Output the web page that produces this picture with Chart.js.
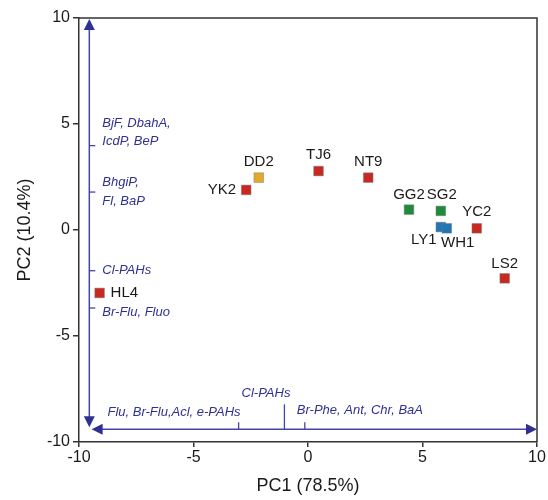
<!DOCTYPE html>
<html>
<head>
<meta charset="utf-8">
<script src="https://cdn.jsdelivr.net/npm/chart.js@4"></script>
<style>
html,body{margin:0;padding:0;background:#fff;}
#wrap{width:548px;height:500px;}
</style>
</head>
<body>
<div id="wrap"><canvas id="c" width="548" height="500"></canvas></div>
<script>
// ---- data ----
const samples = ['HL4','YK2','DD2','TJ6','NT9','GG2','SG2','LY1','WH1','YC2','LS2'];
const pc1 = [-9.1, -2.7, -2.15, 0.46, 2.63, 4.41, 5.8, 5.8, 6.06, 7.37, 8.59];
const pc2 = [-2.97, 1.89, 2.47, 2.78, 2.47, 0.96, 0.9, 0.14, 0.08, 0.08, -2.28];
const groups = ['red','red','orange','red','red','green','green','blue','blue','red','red'];
const xTicks = [-10, -5, 0, 5, 10];
const yTicks = [-10, -5, 0, 5, 10];
const xTitle = 'PC1 (78.5%)';
const yTitle = 'PC2 (10.4%)';
// loading arrows (data units)
const vArrowX = -9.55, vArrowTop = 10, vArrowBottom = -9.3;
const hArrowY = -9.4, hArrowLeft = -9.45, hArrowRight = 10;
const vLoadTicks = [3.98, 1.79, -1.92, -3.68];
const vLoadLabels = [['BjF, DbahA,','IcdP, BeP'], ['BhgiP,','Fl, BaP'], ['Cl-PAHs'], ['Br-Flu, Fluo']];
const hLoadTicks = [-3.03, -1.03, -0.14];
const hLoadLabels = ['Flu, Br-Flu,Acl, e-PAHs', 'Cl-PAHs', 'Br-Phe, Ant, Chr, BaA'];

// ---- styles ----
const palette = {red:'#C8281F', orange:'#E3AA2A', green:'#1F8A3B', blue:'#2176B5'};
const navy = '#2E3192';
const navyLine = '#4446A6';
const FONT = '"Liberation Sans", Arial, sans-serif';
// label placement per sample: [dx, dy, align]
const labelPos = {
  HL4:[11,0,'left'], YK2:[-10,0,'right'], DD2:[0,-16,'center'], TJ6:[0,-16,'center'],
  NT9:[0,-16,'center'], GG2:[0,-15,'center'], SG2:[1,-16,'center'], LY1:[-17,13,'center'],
  WH1:[11,15,'center'], YC2:[0,-16,'center'], LS2:[0,-14,'center']
};
// per-label offsets for loading texts
const vTextPos = [ {dy:-22, lh:18}, {dy:-10, lh:19}, {dy:0, lh:18}, {dy:4, lh:18} ];
const hTextPos = [ {dx:2, dy:-17, align:'right'}, {dx:6, dy:-36, align:'right'}, {dx:-8, dy:-19, align:'left'} ];

const points = pc1.map((x,i)=>({x:x, y:pc2[i]}));

const overlay = {
  id:'overlay',
  afterDatasetsDraw(chart){
    const ctx = chart.ctx, xs = chart.scales.x, ys = chart.scales.y, ca = chart.chartArea;
    ctx.save();
    // frame (top & right)
    ctx.strokeStyle = '#333'; ctx.lineWidth = 1.5;
    ctx.beginPath();
    ctx.moveTo(ca.left, ca.top); ctx.lineTo(ca.right, ca.top); ctx.lineTo(ca.right, ca.bottom);
    ctx.stroke();

    // vertical loading arrow
    const vx = xs.getPixelForValue(vArrowX);
    const vt = ys.getPixelForValue(vArrowTop);
    const vb = ys.getPixelForValue(vArrowBottom);
    ctx.strokeStyle = navyLine; ctx.lineWidth = 1.5;
    ctx.beginPath(); ctx.moveTo(vx, vt+10); ctx.lineTo(vx, vb-10); ctx.stroke();
    ctx.fillStyle = navy;
    ctx.beginPath(); ctx.moveTo(vx, vt+1); ctx.lineTo(vx-5.5, vt+12); ctx.lineTo(vx+5.5, vt+12); ctx.closePath(); ctx.fill();
    ctx.beginPath(); ctx.moveTo(vx, vb); ctx.lineTo(vx-5.5, vb-11); ctx.lineTo(vx+5.5, vb-11); ctx.closePath(); ctx.fill();
    // vertical ticks + labels
    ctx.font = 'italic 13px ' + FONT;
    ctx.textBaseline = 'middle'; ctx.textAlign = 'left';
    vLoadTicks.forEach((v,i)=>{
      const py = ys.getPixelForValue(v);
      ctx.strokeStyle = navyLine; ctx.lineWidth = 1.3;
      ctx.beginPath(); ctx.moveTo(vx, py); ctx.lineTo(vx+6, py); ctx.stroke();
      const p = vTextPos[i];
      ctx.fillStyle = navy;
      vLoadLabels[i].forEach((t,j)=>{
        ctx.fillText(t, vx+13, py + p.dy + j*p.lh);
      });
    });

    // horizontal loading arrow
    const hy = ys.getPixelForValue(hArrowY);
    const hl = xs.getPixelForValue(hArrowLeft);
    const hr = xs.getPixelForValue(hArrowRight);
    ctx.strokeStyle = navyLine; ctx.lineWidth = 1.5;
    ctx.beginPath(); ctx.moveTo(hl+10, hy); ctx.lineTo(hr-10, hy); ctx.stroke();
    ctx.fillStyle = navy;
    ctx.beginPath(); ctx.moveTo(hl, hy); ctx.lineTo(hl+11, hy-5.5); ctx.lineTo(hl+11, hy+5.5); ctx.closePath(); ctx.fill();
    ctx.beginPath(); ctx.moveTo(hr, hy); ctx.lineTo(hr-11, hy-5.5); ctx.lineTo(hr-11, hy+5.5); ctx.closePath(); ctx.fill();
    hLoadTicks.forEach((v,i)=>{
      const px = xs.getPixelForValue(v);
      const len = i===1 ? 25 : 7;
      ctx.strokeStyle = navyLine; ctx.lineWidth = 1.3;
      ctx.beginPath(); ctx.moveTo(px, hy); ctx.lineTo(px, hy-len); ctx.stroke();
      const p = hTextPos[i];
      ctx.fillStyle = navy; ctx.textAlign = p.align;
      ctx.fillText(hLoadLabels[i], px + p.dx, hy + p.dy);
    });

    // sample labels
    const meta = chart.getDatasetMeta(0);
    ctx.font = '15px ' + FONT;
    ctx.fillStyle = '#1a1a1a';
    ctx.textBaseline = 'middle';
    meta.data.forEach((el,i)=>{
      const lp = labelPos[samples[i]];
      ctx.textAlign = lp[2];
      ctx.fillText(samples[i], el.x + lp[0], el.y + lp[1]);
    });
    ctx.restore();
  }
};

new Chart(document.getElementById('c'), {
  type:'scatter',
  data:{ datasets:[{
    data: points,
    pointStyle:'rect',
    pointRadius:6.8,
    pointHoverRadius:6.8,
    pointBackgroundColor: groups.map(g=>palette[g]),
    pointBorderColor:'rgba(120,120,120,0.6)',
    pointBorderWidth:0.8
  }]},
  options:{
    responsive:false,
    animation:false,
    layout:{padding:{top:18, right:11, left:0, bottom:0}},
    plugins:{legend:{display:false}, tooltip:{enabled:false}},
    scales:{
      x:{
        type:'linear', min:-10, max:10,
        afterBuildTicks(s){ s.ticks = xTicks.map(v=>({value:v})); },
        afterFit(s){ s.height = 58; },
        grid:{drawOnChartArea:false, tickLength:5, color:'#333', lineWidth:1.5},
        border:{color:'#333', width:1.5},
        ticks:{color:'#1a1a1a', font:{family:FONT, size:16}, padding:1, maxRotation:0},
        title:{display:true, text:xTitle, color:'#1a1a1a', font:{family:FONT, size:18}, padding:{top:0,bottom:3}}
      },
      y:{
        type:'linear', min:-10, max:10,
        afterBuildTicks(s){ s.ticks = yTicks.map(v=>({value:v})); },
        afterFit(s){ s.width = 79; },
        grid:{drawOnChartArea:false, tickLength:6, color:'#333', lineWidth:1.5},
        border:{color:'#333', width:1.5},
        ticks:{color:'#1a1a1a', font:{family:FONT, size:16}, padding:3},
        title:{display:true, text:yTitle, color:'#1a1a1a', font:{family:FONT, size:18}, padding:{top:14,bottom:6}}
      }
    }
  },
  plugins:[overlay]
});
</script>
</body>
</html>
